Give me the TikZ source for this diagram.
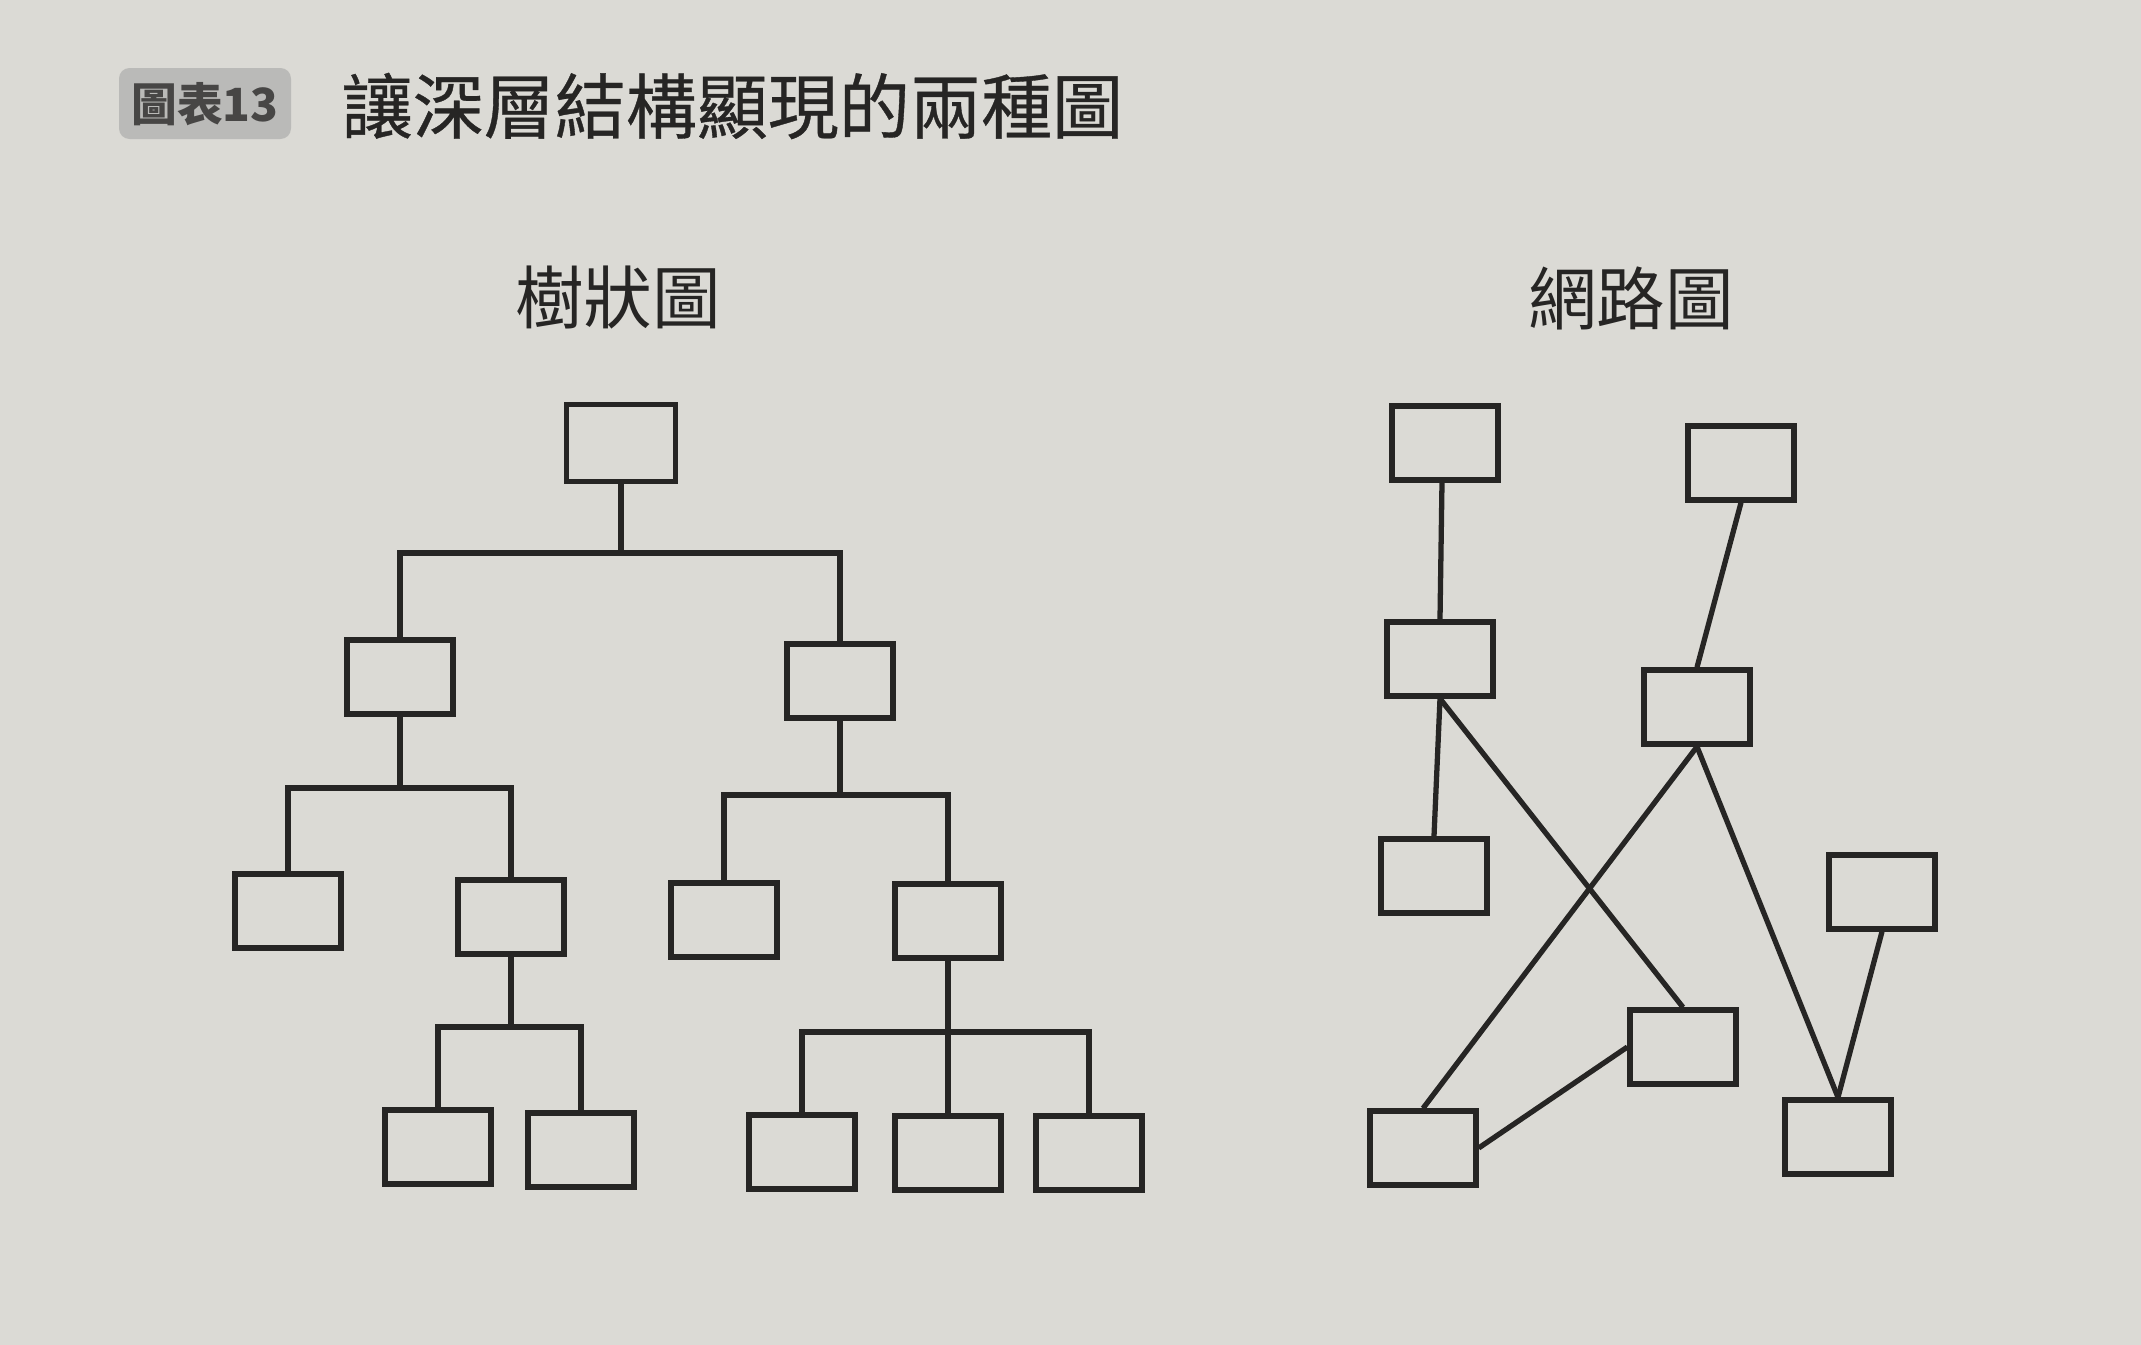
\documentclass[tikz,border=0pt]{standalone}
\usepackage{fontspec}
\newfontfamily\cjk{Noto Sans CJK TC}
\newfontfamily\cjkm[FakeBold=0.5]{Noto Sans CJK TC}
\definecolor{paper}{RGB}{219,218,213}
\definecolor{ink}{RGB}{38,37,36}
\definecolor{badge}{RGB}{186,186,184}
\tikzset{
  box/.style={draw=ink, line width=1.5pt, minimum width=1.06cm, minimum height=0.74cm, inner sep=0pt},
  rootbox/.style={box, minimum width=1.09cm, minimum height=0.77cm},
  link/.style={draw=ink, line width=1.5pt},
}
\begin{document}
\begin{tikzpicture}[x=0.01cm,y=-0.01cm]
\useasboundingbox (0,0) rectangle (2141,1345);
\fill[paper] (0,0) rectangle (2141,1345);
% header
\fill[badge, rounded corners=3pt] (119,68) rectangle (291,139);
\node[font=\cjk\bfseries\fontsize{13}{15}\selectfont, text=ink!85] (badge) at (205,104) {圖表13};
\node[font=\cjkm\fontsize{20.2}{24}\selectfont, text=ink, anchor=west, inner sep=0pt] (title) at (341,106) {讓深層結構顯現的兩種圖};
% subtitles
\node[font=\cjk\fontsize{19.5}{23}\selectfont, text=ink] (treet) at (618,298) {樹狀圖};
\node[font=\cjk\fontsize{19.5}{23}\selectfont, text=ink] (nett) at (1631,298) {網路圖};
% tree
\node[rootbox] (r) at (621,443) {};
\node[box] (a) at (400,677) {};
\node[box] (b) at (840,681) {};
\node[box] (aa) at (288,911) {};
\node[box] (ab) at (511,917) {};
\node[box] (ba) at (724,920) {};
\node[box] (bb) at (948,921) {};
\node[box] (aba) at (438,1147) {};
\node[box] (abb) at (581,1150) {};
\node[box] (bba) at (802,1152) {};
\node[box] (bbb) at (948,1153) {};
\node[box] (bbc) at (1089,1153) {};
\draw[link] (r.south) -- (r.south |- 0,553) coordinate (rj) -| (a.north);
\draw[link] (rj) -| (b.north);
\draw[link] (a.south) -- (a.south |- 0,788) coordinate (aj) -| (aa.north);
\draw[link] (aj) -| (ab.north);
\draw[link] (b.south) -- (b.south |- 0,795) coordinate (bj) -| (ba.north);
\draw[link] (bj) -| (bb.north);
\draw[link] (ab.south) -- (ab.south |- 0,1027) coordinate (abj) -| (aba.north);
\draw[link] (abj) -| (abb.north);
\draw[link] (bb.south) -- (bbb.north);
\draw[link] (bb.south |- 0,1032) coordinate (bbj) -| (bba.north);
\draw[link] (bbj) -| (bbc.north);
% network
\node[box] (n1) at (1445,443) {};
\node[box] (n2) at (1741,463) {};
\node[box] (n3) at (1440,659) {};
\node[box] (n4) at (1697,707) {};
\node[box] (n5) at (1434,876) {};
\node[box] (n6) at (1882,892) {};
\node[box] (n7) at (1683,1047) {};
\node[box] (n8) at (1423,1148) {};
\node[box] (n9) at (1838,1137) {};
\draw[link] ([xshift=-0.03cm]n1.south) -- (n3.north);
\draw[link] (n3.south) -- (n5.north);
\draw[link] (n3.south) -- (n7.north);
\draw[link] (n2.south) -- (n4.north);
\draw[link] (n4.south) -- (n8.north);
\draw[link] (n4.south) -- (n9.north);
\draw[link] (n6.south) -- (n9.north);
\draw[link] (n8.east) -- (n7.west);
\end{tikzpicture}
\end{document}
